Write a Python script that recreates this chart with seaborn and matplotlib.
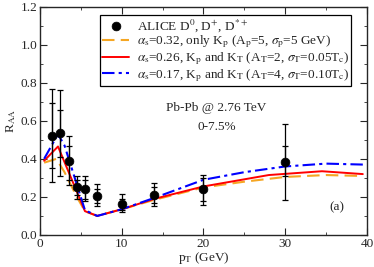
import numpy as np
import pandas as pd
import matplotlib
matplotlib.use("Agg")
import matplotlib.pyplot as plt
from matplotlib.ticker import MultipleLocator, FormatStrFormatter
import seaborn as sns

# ALICE data points
pt_data = [1.5, 2.5, 3.5, 4.5, 5.5, 7.0, 10.0, 14.0, 20.0, 30.0]
raa_data = [0.52, 0.535, 0.39, 0.25, 0.24, 0.205, 0.165, 0.21, 0.24, 0.385]
syst_lo = [0.28, 0.31, 0.26, 0.19, 0.18, 0.15, 0.12, 0.15, 0.16, 0.185]
syst_hi = [0.765, 0.76, 0.52, 0.31, 0.31, 0.27, 0.215, 0.275, 0.315, 0.585]
stat_lo = [0.35, 0.41, 0.29, 0.21, 0.19, 0.17, 0.13, 0.17, 0.18, 0.31]
stat_hi = [0.695, 0.655, 0.47, 0.29, 0.29, 0.24, 0.19, 0.25, 0.30, 0.465]

# model curves
pt_kp = [0.5, 2.0, 3.0, 4.5, 5.5, 7.0, 10.0, 14.0, 20.0, 25.0, 30.0, 35.0, 39.5]
raa_kp = [0.38, 0.40, 0.33, 0.20, 0.125, 0.10, 0.135, 0.185, 0.25, 0.28, 0.305, 0.315, 0.31]
pt_kt2 = [0.5, 2.2, 5.5, 7.0, 10.0, 14.0, 20.0, 24.0, 28.0, 34.5, 39.5]
raa_kt2 = [0.39, 0.465, 0.125, 0.10, 0.135, 0.19, 0.255, 0.285, 0.315, 0.335, 0.32]
pt_kt4 = [0.5, 2.2, 3.0, 5.5, 7.0, 10.0, 14.0, 20.0, 25.0, 30.0, 35.0, 39.5]
raa_kt4 = [0.40, 0.53, 0.47, 0.13, 0.10, 0.135, 0.195, 0.29, 0.33, 0.36, 0.375, 0.37]

lbl_data = r"ALICE D$^0$, D$^{+}$, D$^{*+}$"
lbl_kp = r"$\alpha_\mathrm{s}$=0.32, only K$_\mathrm{p}$ (A$_\mathrm{p}$=5, $\sigma_\mathrm{p}$=5 GeV)"
lbl_kt2 = r"$\alpha_\mathrm{s}$=0.26, K$_\mathrm{p}$ and K$_\mathrm{T}$ (A$_\mathrm{T}$=2, $\sigma_\mathrm{T}$=0.05T$_\mathrm{c}$)"
lbl_kt4 = r"$\alpha_\mathrm{s}$=0.17, K$_\mathrm{p}$ and K$_\mathrm{T}$ (A$_\mathrm{T}$=4, $\sigma_\mathrm{T}$=0.10T$_\mathrm{c}$)"

sns.set_style("ticks")
plt.rcParams["font.family"] = ["Liberation Serif", "DejaVu Serif"]
plt.rcParams["mathtext.fontset"] = "stix"

fig = plt.figure(figsize=(3.74, 2.67), dpi=100)
ax = fig.add_axes([0.107, 0.12, 0.874, 0.855])

df_kp = pd.DataFrame({"pt": pt_kp, "raa": raa_kp})
df_kt2 = pd.DataFrame({"pt": pt_kt2, "raa": raa_kt2})
df_kt4 = pd.DataFrame({"pt": pt_kt4, "raa": raa_kt4})

sns.lineplot(data=df_kp, x="pt", y="raa", ax=ax, color="#f5a623", lw=1.5,
             linestyle=(0, (6, 3)), label=lbl_kp, sort=False)
sns.lineplot(data=df_kt2, x="pt", y="raa", ax=ax, color="#ff0000", lw=1.4,
             label=lbl_kt2, sort=False)
sns.lineplot(data=df_kt4, x="pt", y="raa", ax=ax, color="#0000ff", lw=1.5,
             linestyle=(0, (6, 2, 1.5, 2)), label=lbl_kt4, sort=False)

x = np.array(pt_data)
y = np.array(raa_data)
ax.errorbar(x, y, yerr=[y - np.array(syst_lo), np.array(syst_hi) - y], fmt="none",
            ecolor="black", elinewidth=0.9, capsize=2.5, capthick=0.9, zorder=4)
ax.errorbar(x, y, yerr=[y - np.array(stat_lo), np.array(stat_hi) - y], fmt="none",
            ecolor="black", elinewidth=0.9, capsize=2.5, capthick=0.9, zorder=4)
sns.scatterplot(x=pt_data, y=raa_data, ax=ax, color="black", s=40, edgecolor="black",
                zorder=5, label=lbl_data)

handles, labels = ax.get_legend_handles_labels()
order = [3, 0, 1, 2]
leg = ax.legend([handles[i] for i in order], [labels[i] for i in order],
                loc="upper right", bbox_to_anchor=(0.96, 0.975), fontsize=9.5,
                frameon=True, fancybox=False, edgecolor="black", framealpha=1,
                handlelength=2.0, handletextpad=0.6, borderpad=0.15, labelspacing=0.0,
                borderaxespad=0.2)
leg.get_frame().set_linewidth(0.9)

ax.text(21.6, 0.665, "Pb-Pb @ 2.76 TeV", ha="center", va="center", fontsize=9.5)
ax.text(21.6, 0.57, "0-7.5%", ha="center", va="center", fontsize=9.5)
ax.text(36.3, 0.143, "(a)", ha="center", va="center", fontsize=9.5)

ax.set_xlim(0, 40)
ax.set_ylim(0, 1.2)
ax.xaxis.set_major_locator(MultipleLocator(10))
ax.xaxis.set_minor_locator(MultipleLocator(5))
ax.yaxis.set_major_locator(MultipleLocator(0.2))
ax.yaxis.set_minor_locator(MultipleLocator(0.1))
ax.yaxis.set_major_formatter(FormatStrFormatter("%.1f"))
ax.tick_params(which="both", direction="in", top=True, right=True, labelsize=9.5, pad=2)
ax.tick_params(which="major", length=5)
ax.tick_params(which="minor", length=2.5)
for s in ax.spines.values():
    s.set_linewidth(1.0)
ax.set_xlabel(r"p$_\mathrm{T}$ (GeV)", fontsize=9.5, labelpad=0)
ax.set_ylabel(r"R$_\mathrm{AA}$", fontsize=9.5, labelpad=2)

fig.savefig("out.png", dpi=100)
